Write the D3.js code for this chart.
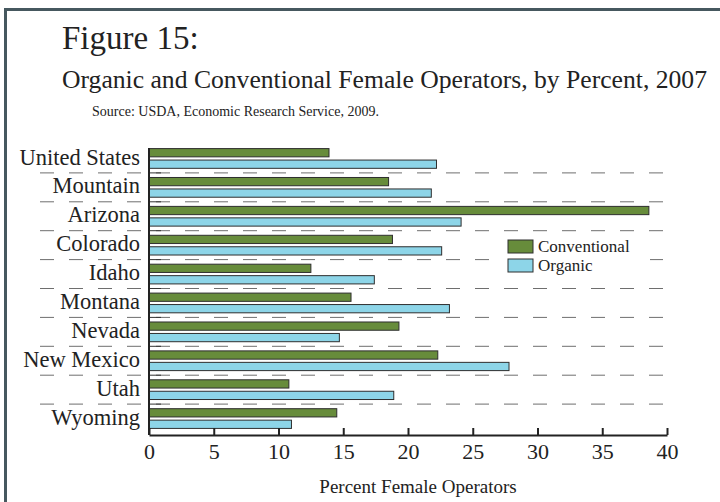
<!DOCTYPE html>
<html>
<head>
<meta charset="utf-8">
<script src="https://cdn.jsdelivr.net/npm/d3@7"></script>
<style>
  body { margin: 0; background: #fff; }
  svg { display: block; font-family: "Liberation Serif", "DejaVu Serif", serif; }
</style>
</head>
<body>
<div id="chart"></div>
<script>
const regions = ["United States", "Mountain", "Arizona", "Colorado", "Idaho",
  "Montana", "Nevada", "New Mexico", "Utah", "Wyoming"];
const conventional = [13.9, 18.5, 38.6, 18.8, 12.5, 15.6, 19.3, 22.3, 10.8, 14.5];
const organic = [22.2, 21.8, 24.1, 22.6, 17.4, 23.2, 14.7, 27.8, 18.9, 11.0];
const seriesNames = ["Conventional", "Organic"];
const seriesColors = ["#678c3b", "#8dd5e8"];
const xTicks = [0, 5, 10, 15, 20, 25, 30, 35, 40];

const width = 720, height = 502;
const margin = { left: 149, right: 53, top: 144, bottom: 69 };

const svg = d3.select("#chart").append("svg")
  .attr("width", width)
  .attr("height", height);

// frame (only top and left edges fall inside the picture)
svg.append("path")
  .attr("d", `M5.5,${height + 5} V9.5 H${width + 5}`)
  .attr("fill", "none")
  .attr("stroke", "#46585f")
  .attr("stroke-width", 3);

// titles
svg.append("text")
  .attr("x", 62).attr("y", 49)
  .style("font-size", "33px").style("fill", "#222")
  .text("Figure 15:");
svg.append("text")
  .attr("x", 62).attr("y", 88)
  .attr("textLength", 645).attr("lengthAdjust", "spacingAndGlyphs")
  .style("font-size", "25px").style("fill", "#222")
  .text("Organic and Conventional Female Operators, by Percent, 2007");
svg.append("text")
  .attr("x", 92).attr("y", 116)
  .style("font-size", "14px").style("fill", "#222")
  .text("Source: USDA, Economic Research Service, 2009.");

const x = d3.scaleLinear()
  .domain([0, 40])
  .range([margin.left, width - margin.right]);

const y = d3.scaleBand()
  .domain(regions)
  .range([margin.top, height - margin.bottom]);

const sub = d3.scaleBand()
  .domain(seriesNames)
  .range([0, y.bandwidth()])
  .paddingInner(0.28)
  .paddingOuter(0.4);

// dashed separators between groups
const seps = regions.slice(1).map(r => y(r));
svg.selectAll(".sep")
  .data(seps)
  .enter().append("line")
  .attr("class", "sep")
  .attr("x1", 40).attr("x2", x(40))
  .attr("y1", d => d).attr("y2", d => d)
  .attr("stroke", "#6e6e6e")
  .attr("stroke-width", 1)
  .attr("stroke-dasharray", "14,15");

// short ticks on the y axis
svg.selectAll(".ytick")
  .data(seps)
  .enter().append("line")
  .attr("x1", x(0)).attr("x2", x(0) + 12)
  .attr("y1", d => d).attr("y2", d => d)
  .attr("stroke", "#333").attr("stroke-width", 1);

// bars
const data = regions.map((r, i) => ({ region: r, values: [conventional[i], organic[i]] }));
const groups = svg.selectAll(".grp")
  .data(data)
  .enter().append("g")
  .attr("transform", d => `translate(0,${y(d.region)})`);

groups.selectAll("rect")
  .data(d => d.values.map((v, j) => ({ v, name: seriesNames[j], j })))
  .enter().append("rect")
  .attr("x", x(0))
  .attr("y", d => sub(d.name))
  .attr("width", d => x(d.v) - x(0))
  .attr("height", sub.bandwidth())
  .attr("fill", d => seriesColors[d.j])
  .attr("stroke", "#2e2e2e")
  .attr("stroke-width", 1);

// category labels
svg.selectAll(".cat")
  .data(regions)
  .enter().append("text")
  .attr("x", x(0) - 9)
  .attr("y", d => y(d) + y.bandwidth() / 2)
  .attr("dy", "0.27em")
  .attr("text-anchor", "end")
  .style("font-size", "22.5px").style("fill", "#222")
  .text(d => d);

// y axis line
const axisY = height - margin.bottom + 2;
svg.append("line")
  .attr("x1", x(0)).attr("x2", x(0))
  .attr("y1", margin.top + 4).attr("y2", axisY)
  .attr("stroke", "#222").attr("stroke-width", 2);

// x axis
const xAxis = svg.append("g")
  .attr("transform", `translate(0,${axisY})`)
  .call(d3.axisBottom(x).tickValues(xTicks).tickSizeInner(-7).tickSizeOuter(0).tickPadding(8));
xAxis.select(".domain").attr("stroke", "#222").attr("stroke-width", 2);
xAxis.selectAll(".tick line").attr("stroke", "#222").attr("stroke-width", 2);
xAxis.selectAll(".tick text")
  .style("font-size", "22px")
  .style("font-family", "Liberation Serif, serif")
  .attr("fill", "#222");

svg.append("text")
  .attr("x", 418).attr("y", 493)
  .attr("text-anchor", "middle")
  .style("font-size", "19px").style("fill", "#222")
  .text("Percent Female Operators");

// legend
const legend = svg.append("g").attr("transform", "translate(494,236)");
legend.append("rect")
  .attr("x", 0).attr("y", 0).attr("width", 156).attr("height", 48)
  .attr("fill", "#fff");
seriesNames.forEach((name, i) => {
  legend.append("rect")
    .attr("x", 14).attr("y", 4 + i * 19)
    .attr("width", 25).attr("height", 13)
    .attr("fill", seriesColors[i])
    .attr("stroke", "#2e2e2e").attr("stroke-width", 1);
  legend.append("text")
    .attr("x", 44).attr("y", 16 + i * 19)
    .style("font-size", "17px").style("fill", "#222")
    .text(name);
});
</script>
</body>
</html>
